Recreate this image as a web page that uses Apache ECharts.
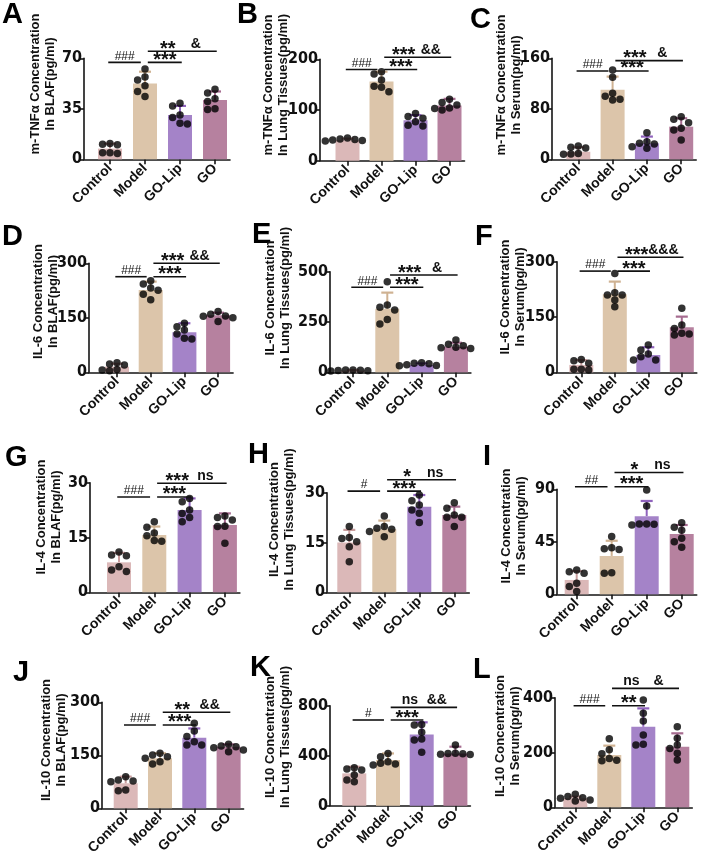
<!DOCTYPE html>
<html>
<head>
<meta charset="utf-8">
<title>cytokines</title>
<script src="https://cdn.jsdelivr.net/npm/echarts@6/dist/echarts.min.js"></script>
<style>
    html, body { margin: 0; padding: 0; background: #fff; }
    #main { width: 708px; height: 867px; }
</style>
</head>
<body>
<div id="main"></div>
<script>
var groups = ['Control', 'Model', 'GO-Lip', 'GO'];

// A  m-TNFa / BLAF
var aMean = [7.4, 52.6, 30.7, 41.1];
var aSd = [3.4, 8.1, 6.3, 5.9];
var aPts = [[11, 10.5, 10, 4.5, 4, 4.5], [62.5, 57, 55, 51, 47, 43.5], [38.8, 37, 30.7, 29, 25, 24.5], [48.5, 46, 42, 40, 35, 34.5]];
var aTicks = [0, 35, 70];
var aSig = ['###', '***', '**', '&'];
// B  m-TNFa / Lung
var bMean = [40.5, 156, 80, 109];
var bSd = [3, 19.6, 10, 13];
var bPts = [[45, 43, 41, 40, 39, 42], [175.6, 171, 159, 147, 145, 136], [93, 87, 83.5, 77, 70, 68.4], [121, 115, 110, 104, 103, 100]];
var bTicks = [0, 100, 200];
var bSig = ['###', '***', '***', '&&'];
// C  m-TNFa / Serum
var cMean = [12, 110, 25.3, 51.7];
var cSd = [7, 21, 10.7, 13.3];
var cPts = [[21, 19, 18, 9, 8.5, 8], [141.5, 130, 104.5, 100, 95, 94], [42, 28, 25.3, 24.3, 20, 17.4], [67.6, 63.4, 58, 49, 46.5, 30.6]];
var cTicks = [0, 80, 160];
var cSig = ['###', '***', '***', '&'];
// D  IL-6 / BLAF
var dMean = [15.6, 226.6, 110, 157];
var dSd = [8, 23, 25, 7];
var dPts = [[26.6, 23, 20, 8, 4.6, 6.4], [252, 243, 232, 226, 215, 200], [135, 125.7, 116.5, 105.5, 93.6, 91.7], [167, 160, 155, 154, 150, 140]];
var dTicks = [0, 150, 300];
var dSig = ['###', '***', '***', '&&'];
// E  IL-6 / Lung
var eMean = [8, 316, 36, 127];
var eSd = [3, 80, 8, 20];
var ePts = [[12, 10, 9, 8, 11, 7], [450, 334, 323, 310, 263, 240], [48, 45, 42, 38, 34, 32], [160, 140, 132, 125, 122, 118]];
var eTicks = [0, 250, 500];
var eSig = ['###', '***', '***', '&'];
// F  IL-6 / Serum
var fMean = [20, 212, 47, 122];
var fSd = [13, 34, 21, 29];
var fPts = [[35, 31.6, 24.4, 8, 6.3, 8], [268, 216, 209.6, 209.6, 196, 178], [74, 60.5, 49.7, 42.5, 33.4, 33.4], [173.4, 128, 119, 105.7, 101, 104]];
var fTicks = [0, 150, 300];
var fSig = ['###', '***', '***', '&&&'];
// G  IL-4 / BLAF
var gMean = [8.2, 15.7, 22.5, 18.4];
var gSd = [2.6, 2.3, 3.2, 3.2];
var gPts = [[11, 10.2, 10, 7, 6.1, 5.7], [19.3, 17.8, 16.2, 15.5, 14.2, 14], [25.7, 24.8, 22.5, 21.6, 20.5, 19.3], [20.9, 20.5, 19.8, 18.1, 18, 13.4]];
var gTicks = [0, 15, 30];
var gSig = ['###', '***', '***', 'ns'];
// H  IL-4 / Lung
var hMean = [15, 19, 25.8, 23.3];
var hSd = [3.8, 2.6, 3.5, 2.5];
var hPts = [[19.8, 16.5, 16.2, 15.2, 13.7, 9.2], [23, 19.8, 19.3, 19, 18.3, 16.7], [29.3, 27.6, 26.3, 24.8, 23.8, 21], [27, 25.3, 23.3, 22.6, 22.6, 19.8]];
var hTicks = [0, 15, 30];
var hSig = ['#', '***', '*', 'ns'];
// I  IL-4 / Serum
var iMean = [12.3, 32.9, 67, 51.7];
var iSd = [7.5, 13, 13, 7.7];
var iPts = [[20.9, 19.4, 18, 9.4, 6.6, 2.3], [49.5, 40, 39, 38.5, 18.5, 18], [89.4, 75.7, 60.3, 59.4, 60, 60.3], [61.4, 57.4, 55, 48, 45, 40.3]];
var iTicks = [0, 45, 90];
var iSig = ['##', '***', '*', 'ns'];
// J  IL-10 / BLAF
var jMean = [70.8, 141.5, 200, 174.5];
var jSd = [18.8, 14.2, 26, 6.5];
var jPts = [[89.6, 80, 77, 75, 52, 50], [155.7, 151, 146, 141.5, 132, 125.5], [240.6, 218.9, 203, 188.7, 179, 179], [181, 176.4, 174.5, 171.7, 165, 160]];
var jTicks = [0, 150, 300];
var jSig = ['###', '***', '**', '&&'];
// K  IL-10 / Lung
var kMean = [258.7, 365, 570, 418];
var kSd = [53, 53, 97, 54];
var kPts = [[304, 293, 285, 245, 205, 192], [418, 392, 352, 339, 333, 325], [650, 645, 587, 533, 525, 427], [485, 420, 418, 415, 412, 410]];
var kTicks = [0, 400, 800];
var kSig = ['#', '***', 'ns', '&&'];
// L  IL-10 / Serum
var lMean = [32.8, 191, 294, 221];
var lSd = [6, 34, 67, 49];
var lPts = [[47.4, 39, 35, 32.8, 26.7, 23], [250, 210, 195, 178, 172, 170], [391.5, 343, 315, 264, 230, 227], [294, 251.7, 227.4, 215, 197, 172.6]];
var lTicks = [0, 200, 400];
var lSig = ['###', '**', 'ns', '&'];

var panels = [
    { key: 'A', title: 'm-TNFα Concentration\nIn BLAF(pg/ml)', mean: aMean, sd: aSd, pts: aPts, ticks: aTicks, sig: aSig },
    { key: 'B', title: 'm-TNFα Concentration\nIn Lung Tissues(pg/ml)', mean: bMean, sd: bSd, pts: bPts, ticks: bTicks, sig: bSig },
    { key: 'C', title: 'm-TNFα Concentration\nIn Serum(pg/ml)', mean: cMean, sd: cSd, pts: cPts, ticks: cTicks, sig: cSig },
    { key: 'D', title: 'IL-6 Concentration\nIn BLAF(pg/ml)', mean: dMean, sd: dSd, pts: dPts, ticks: dTicks, sig: dSig },
    { key: 'E', title: 'IL-6 Concentration\nIn Lung Tissues(pg/ml)', mean: eMean, sd: eSd, pts: ePts, ticks: eTicks, sig: eSig },
    { key: 'F', title: 'IL-6 Concentration\nIn Serum(pg/ml)', mean: fMean, sd: fSd, pts: fPts, ticks: fTicks, sig: fSig },
    { key: 'G', title: 'IL-4 Concentration\nIn BLAF(pg/ml)', mean: gMean, sd: gSd, pts: gPts, ticks: gTicks, sig: gSig },
    { key: 'H', title: 'IL-4 Concentration\nIn Lung Tissues(pg/ml)', mean: hMean, sd: hSd, pts: hPts, ticks: hTicks, sig: hSig },
    { key: 'I', title: 'IL-4 Concentration\nIn Serum(pg/ml)', mean: iMean, sd: iSd, pts: iPts, ticks: iTicks, sig: iSig },
    { key: 'J', title: 'IL-10 Concentration\nIn BLAF(pg/ml)', mean: jMean, sd: jSd, pts: jPts, ticks: jTicks, sig: jSig },
    { key: 'K', title: 'IL-10 Concentration\nIn Lung Tissues(pg/ml)', mean: kMean, sd: kSd, pts: kPts, ticks: kTicks, sig: kSig },
    { key: 'L', title: 'IL-10 Concentration\nIn Serum(pg/ml)', mean: lMean, sd: lSd, pts: lPts, ticks: lTicks, sig: lSig }
];

// layout per panel: axis x, first bar x, bar spacing, top px, bottom px,
// bracket levels (share of max), letter x/y, title centre x/y
var layout = [
    [84, 110, 35, 58.3, 159.3, 0.96, 1.07, 2, 0, 43, 84],
    [320, 347.5, 34, 59.3, 160.7, 0.9, 1.02, 237, 0, 276, 85],
    [552, 578.3, 34.3, 58.3, 159.3, 0.875, 0.977, 470, 5, 509, 85],
    [89, 117, 33.7, 263.3, 372.3, 0.877, 1.0, 2, 222, 46, 301.5],
    [330, 353, 34.3, 271.7, 372.3, 0.845, 0.967, 252, 220, 278, 298],
    [557, 581.3, 33.5, 261.7, 372.3, 0.915, 1.04, 475, 222, 513, 297],
    [90, 119, 35.3, 482.7, 592.3, 0.87, 0.995, 5, 443, 49, 517],
    [327, 349.3, 35, 492.7, 592.3, 1.016, 1.13, 248, 440, 282, 519.5],
    [557, 576.7, 35, 489.3, 594.3, 1.025, 1.16, 483, 442, 514, 526],
    [102, 125.7, 34.3, 702.3, 808.3, 0.786, 0.906, 13, 658, 54, 740],
    [330, 354.3, 33.7, 705.7, 805.7, 0.857, 0.983, 250, 653, 278, 737],
    [555, 575.3, 34, 697.7, 807.3, 0.927, 1.085, 473, 655, 508, 736]
];

var barColors = ['#dbb8b8', '#dcc5aa', '#a483c8', '#b6819f'];
var errColors = ['#c99d9d', '#cfb292', '#9063bd', '#a66c90'];
var axisColor = '#151515';
var fontFam = '"Liberation Sans", Arial, sans-serif';
var narrowFam = '"Liberation Sans Narrow", "Arial Narrow", "DejaVu Sans Condensed", sans-serif';

var grid = [], xAxis = [], yAxis = [], series = [], graphic = [];

panels.forEach(function (p, k) {
    var L = layout[k];
    var left = L[0], c0 = L[1], sp = L[2], top = L[3], bottom = L[4];
    var right = c0 + 3 * sp + 15;
    var ymax = p.ticks[p.ticks.length - 1];
    var pxPerUnit = (bottom - top) / ymax;

    grid.push({ left: left, top: top, width: right - left, height: bottom - top });

    xAxis.push({
        gridIndex: k, type: 'value',
        min: (left - c0) / sp, max: (right - c0) / sp,
        splitLine: { show: false },
        axisLine: { onZero: false, lineStyle: { color: axisColor, width: 1.6 } },
        axisTick: { customValues: [0, 1, 2, 3], length: 5, lineStyle: { color: axisColor, width: 1.6 } },
        axisLabel: {
            customValues: [0, 1, 2, 3], rotate: 45, margin: 7,
            formatter: function (v) { return groups[Math.round(v)]; },
            color: '#111', fontSize: 14, fontWeight: 'bold', fontFamily: fontFam
        }
    });
    yAxis.push({
        gridIndex: k, type: 'value', min: 0, max: ymax, interval: p.ticks[1],
        splitLine: { show: false },
        axisLine: { show: true, onZero: false, lineStyle: { color: axisColor, width: 1.6 } },
        axisTick: { show: true, length: 4, lineStyle: { color: axisColor, width: 1.6 } },
        axisLabel: { margin: 2, color: '#111', fontSize: 16, fontWeight: 'bold', fontFamily: narrowFam }
    });

    series.push({
        type: 'bar', xAxisIndex: k, yAxisIndex: k, barWidth: 24, z: 2, silent: true,
        data: p.mean.map(function (m, i) {
            return { value: [i, m], itemStyle: { color: barColors[i] } };
        })
    });

    series.push({
        type: 'custom', xAxisIndex: k, yAxisIndex: k, z: 3, silent: true,
        data: p.mean.map(function (m, i) { return [i, m, p.sd[i]]; }),
        renderItem: function (params, api) {
            var i = api.value(0), m = api.value(1), s = api.value(2);
            var a = api.coord([i, m]), b = api.coord([i, m + s]);
            var col = errColors[i];
            return {
                type: 'group', children: [
                    { type: 'line', shape: { x1: a[0], y1: a[1], x2: b[0], y2: b[1] }, style: { stroke: col, lineWidth: 2 } },
                    { type: 'line', shape: { x1: b[0] - 6, y1: b[1], x2: b[0] + 6, y2: b[1] }, style: { stroke: col, lineWidth: 2.2 } }
                ]
            };
        }
    });

    // simple beeswarm spread of the dots
    var dots = [];
    p.pts.forEach(function (arr, i) {
        var placed = [];
        arr.slice().sort(function (a, b) { return b - a; }).forEach(function (v) {
            var cands = [0, -1, 1, -2, 2, -3, 3];
            for (var c = 0; c < cands.length; c++) {
                var dx = cands[c] * 7.4;
                var ok = placed.every(function (q) {
                    return Math.abs(q[0] - dx) >= 7 || Math.abs(q[1] - v) * pxPerUnit >= 6.5;
                });
                if (ok) { placed.push([dx, v]); dots.push([i + dx / sp, v]); break; }
            }
        });
    });
    series.push({
        type: 'scatter', xAxisIndex: k, yAxisIndex: k, z: 4, silent: true,
        symbolSize: 7.5, itemStyle: { color: '#000' }, data: dots
    });

    // significance bars
    var lo = L[5] * ymax, hi = L[6] * ymax;
    var brackets = [
        { x1: -0.05, x2: 0.88, y: lo, labels: [[0.42, p.sig[0]]] },
        { x1: 1.08, x2: 2.05, y: lo, labels: [[1.57, p.sig[1]]] },
        { x1: 1.08, x2: 3.05, y: hi, labels: [[1.65, p.sig[2]], [2.45, p.sig[3]]] }
    ];
    series.push({
        type: 'custom', xAxisIndex: k, yAxisIndex: k, z: 5, silent: true, clip: false,
        data: brackets.map(function (b, n) { return [n]; }),
        renderItem: function (params, api) {
            var b = brackets[params.dataIndex];
            var a = api.coord([b.x1, b.y]), e = api.coord([b.x2, b.y]);
            var kids = [{ type: 'line', shape: { x1: a[0], y1: a[1], x2: e[0], y2: a[1] }, style: { stroke: '#111', lineWidth: 1.6 } }];
            b.labels.forEach(function (lb) {
                var pos = api.coord([lb[0], b.y]);
                var t = lb[1];
                var star = t.indexOf('*') >= 0;
                var hash = t.indexOf('#') >= 0;
                kids.push({
                    type: 'text', x: pos[0], y: pos[1] + (star ? 8 : 0),
                    style: {
                        text: t, align: 'center', verticalAlign: 'bottom', fill: '#111',
                        fontSize: star ? 20 : (hash ? 12 : 14), fontWeight: hash ? 'normal' : 'bold', fontFamily: fontFam
                    }
                });
            });
            return { type: 'group', children: kids };
        }
    });

    graphic.push({
        type: 'text', x: L[7], y: L[8],
        style: { text: p.key, fill: '#000', fontSize: 29, fontWeight: 'bold', fontFamily: fontFam }
    });
    graphic.push({
        type: 'text', x: L[9], y: L[10], rotation: Math.PI / 2,
        style: {
            text: p.title, align: 'center', verticalAlign: 'middle', lineHeight: 15, fill: '#111',
            fontSize: 13, fontWeight: 'bold', fontFamily: fontFam
        }
    });
});

var chart = echarts.init(document.getElementById('main'));
chart.setOption({
    animation: false,
    backgroundColor: '#fff',
    grid: grid,
    xAxis: xAxis,
    yAxis: yAxis,
    series: series,
    graphic: { elements: graphic }
});
</script>
</body>
</html>
